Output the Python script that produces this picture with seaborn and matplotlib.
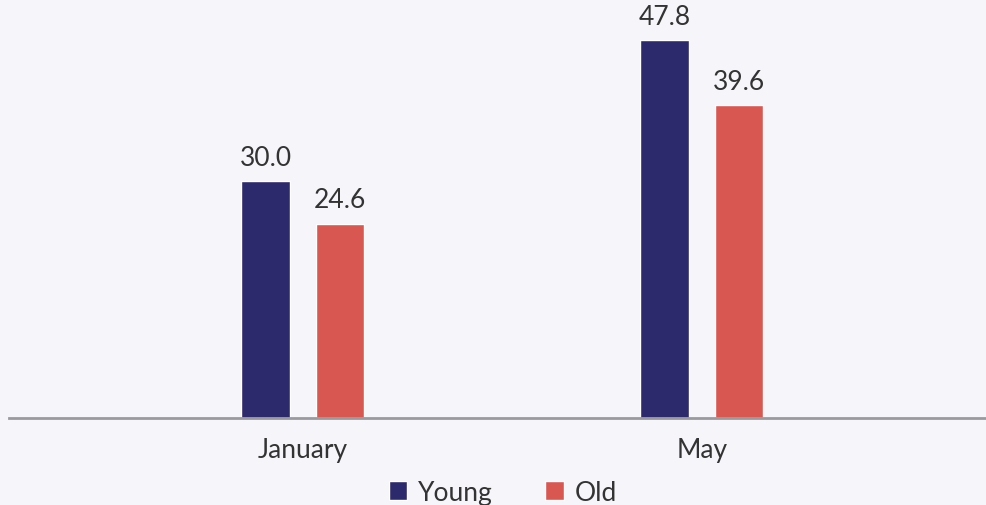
import pandas as pd
import matplotlib.pyplot as plt
import seaborn as sns

months = ['January', 'May']
young = [30.0, 47.8]
old = [24.6, 39.6]
groups = ['Young', 'Old']
colors = ['#2c2a6c', '#d95751']

df = pd.DataFrame({
    'month': months * 2,
    'group': [groups[0]] * len(months) + [groups[1]] * len(months),
    'value': young + old,
})

sns.set_theme(style='white')
plt.rcParams['font.family'] = ['Lato', 'DejaVu Sans']

bg = '#f5f5fa'
fig = plt.figure(figsize=(9.86, 5.06), dpi=100, facecolor=bg)
ax = fig.add_axes([0.009, 0.172, 0.991, 0.828])
ax.set_facecolor(bg)

sns.barplot(data=df, x='month', y='value', hue='group', palette=colors,
            width=0.371, gap=0.34, ax=ax, legend=True, saturation=1)

for container in ax.containers:
    ax.bar_label(container, fmt='%.1f', padding=8, fontsize=19, color='#333333')

ax.set_xlim(-0.737, 1.712)
ax.set_ylim(0, 53.0)
ax.set_xlabel('')
ax.set_ylabel('')
ax.set_yticks([])
ax.tick_params(axis='x', length=0, pad=14, labelsize=19, labelcolor='#333333')
for side in ['top', 'right', 'left']:
    ax.spines[side].set_visible(False)
ax.spines['bottom'].set_color('#9a9a9e')
ax.spines['bottom'].set_linewidth(2)

handles, labels = ax.get_legend_handles_labels()
ax.get_legend().remove()
fig.legend(handles, labels, loc='center', bbox_to_anchor=(0.51, 0.025), ncol=2,
           frameon=False, fontsize=19, handlelength=0.7, handleheight=0.7,
           handletextpad=0.4, columnspacing=2.0, labelcolor='#333333')

plt.savefig('out.png', dpi=100, facecolor=bg)
plt.close()
